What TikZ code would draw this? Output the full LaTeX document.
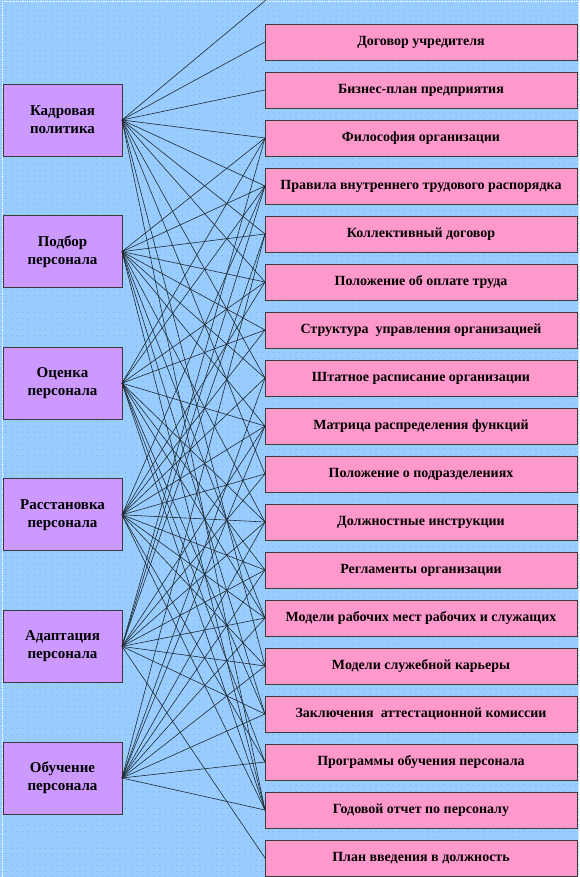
\documentclass[tikz,border=0pt]{standalone}
\usepackage{fontspec}
\setmainfont{Liberation Serif}
\usepackage{xcolor}
\usetikzlibrary{positioning,patterns}

\definecolor{bgblue}{HTML}{99CCFF}
\definecolor{dotblue}{HTML}{6A9FE8}
\definecolor{funcviolet}{HTML}{CC99FF}
\definecolor{docpink}{HTML}{FF99CC}
\definecolor{boxedge}{HTML}{3A3A3A}
\definecolor{linegray}{HTML}{1E2A30}

% sparse dot texture of the page
\pgfdeclarepatternformonly{sparsedots}{\pgfqpoint{-1pt}{-1pt}}{\pgfqpoint{1pt}{1pt}}{\pgfqpoint{5.7pt}{5.7pt}}{%
  \pgfpathcircle{\pgfqpoint{0pt}{0pt}}{0.45pt}\pgfusepath{fill}}

\begin{document}
\begin{tikzpicture}[
  x=1pt, y=-1pt,
  node distance=12pt,
  func/.style={rectangle, draw=boxedge, line width=0.9pt, outer sep=0pt, fill=funcviolet, minimum width=119pt, minimum height=72pt, inner sep=0pt, align=center, font=\fontsize{15}{18}\selectfont\bfseries},
  doc/.style={rectangle, draw=boxedge, line width=0.9pt, outer sep=0pt, fill=docpink, minimum width=312pt, minimum height=36pt, inner sep=0pt, font=\fontsize{14}{16}\selectfont\bfseries},
  link/.style={draw=linegray, line width=0.6pt}
]

% Page
\useasboundingbox (0,0) rectangle (579,877);
\fill[bgblue] (0,0) rectangle (579,877);
\fill[pattern=sparsedots, pattern color=dotblue] (0,0) rectangle (579,877);
\draw[white, densely dotted, line width=0.8pt] (2,1) rectangle (578,877);

% Functions (left column)
\node[func] at (62.5,120) (kadr)  {Кадровая\\политика};
\node[func, below=59.6pt of kadr]   (podbor) {Подбор\\персонала};
\node[func, below=59.6pt of podbor] (ocenka) {Оценка\\персонала};
\node[func, below=59.6pt of ocenka] (rasst)  {Расстановка\\персонала};
\node[func, below=59.6pt of rasst]  (adapt)  {Адаптация\\персонала};
\node[func, below=59.6pt of adapt]  (obuch)  {Обучение\\персонала};

% Documents (right column)
\coordinate (doc0) at (266,0);
\node[doc] at (421,42) (doc1)    {Договор учредителя};
\node[doc, below=of doc1]  (doc2)  {Бизнес-план предприятия};
\node[doc, below=of doc2]  (doc3)  {Философия организации};
\node[doc, below=of doc3]  (doc4)  {Правила внутреннего трудового распорядка};
\node[doc, below=of doc4]  (doc5)  {Коллективный договор};
\node[doc, below=of doc5]  (doc6)  {Положение об оплате труда};
\node[doc, below=of doc6]  (doc7)  {Структура\ \ управления организацией};
\node[doc, below=of doc7]  (doc8)  {Штатное расписание организации};
\node[doc, below=of doc8]  (doc9)  {Матрица распределения функций};
\node[doc, below=of doc9]  (doc10) {Положение о подразделениях};
\node[doc, below=of doc10] (doc11) {Должностные инструкции};
\node[doc, below=of doc11] (doc12) {Регламенты организации};
\node[doc, below=of doc12] (doc13) {Модели рабочих мест рабочих и служащих};
\node[doc, below=of doc13] (doc14) {Модели служебной карьеры};
\node[doc, below=of doc14] (doc15) {Заключения\ \ аттестационной комиссии};
\node[doc, below=of doc15] (doc16) {Программы обучения персонала};
\node[doc, below=of doc16] (doc17) {Годовой отчет по персоналу};
\node[doc, below=of doc17] (doc18) {План введения в должность};

% Links function -> document
\foreach \fn/\doclist in {
    kadr/{0,1,2,3,4,5,6,8,10,14,17},
    podbor/{3,4,5,6,7,8,9,11,13,15,17},
    ocenka/{3,4,6,7,9,11,12,13,15,16,17},
    rasst/{4,6,7,8,9,10,11,12,13,14,16,17},
    adapt/{3,4,5,9,10,11,12,13,14,15,18},
    obuch/{5,8,9,11,12,13,14,15,16,17}}
  \foreach \d in \doclist
    \draw[link] (\fn.east) -- (doc\d.west);

\end{tikzpicture}
\end{document}
